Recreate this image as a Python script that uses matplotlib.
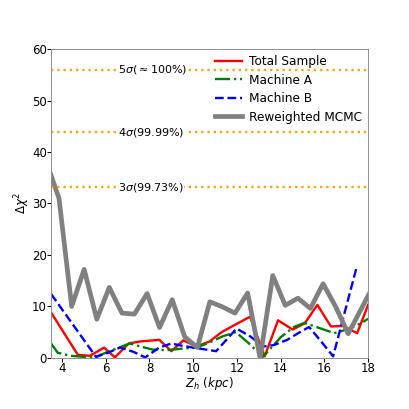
import matplotlib
matplotlib.use("Agg")
import matplotlib.pyplot as plt

# Reweighted MCMC (gray)
x_mcmc = [3.29, 3.86, 4.44, 5.01, 5.59, 6.16, 6.74, 7.31, 7.89, 8.46, 9.04, 9.61, 10.19,
          10.76, 11.34, 11.91, 12.49, 13.06, 13.64, 14.21, 14.79, 15.36, 15.94, 16.51,
          17.09, 17.66, 18.24]
y_mcmc = [38.0, 31.0, 10.0, 17.2, 7.5, 13.7, 8.7, 8.5, 12.5, 5.9, 11.3, 4.1, 2.0,
          10.9, 9.9, 8.7, 12.6, 0.0, 16.0, 10.2, 11.6, 9.6, 14.4, 10.0,
          4.7, 9.3, 14.0]

# Total sample (red)
x_total = [3.50, 4.72, 5.28, 5.92, 6.42, 7.05, 7.60, 8.15, 8.45, 9.00, 9.55, 10.15,
           10.75, 11.30, 11.90, 12.60, 13.27, 13.88, 14.55, 15.10, 15.68, 16.30,
           16.85, 17.50, 18.00]
y_total = [8.8, 0.6, 0.4, 2.0, 0.1, 2.8, 3.2, 3.4, 3.5, 1.3, 3.4, 2.2,
           3.2, 5.0, 6.4, 8.0, 0.3, 7.3, 5.5, 6.7, 10.3, 6.1,
           6.2, 4.8, 10.3]

# Machine A (green)
x_a = [3.50, 3.80, 4.40, 5.00, 5.50, 6.00, 6.60, 7.10, 7.60, 8.15, 8.80, 9.50, 10.15,
       10.75, 11.35, 11.95, 12.50, 13.19, 14.00, 14.60, 15.10, 15.70, 16.45, 17.10,
       17.70, 18.00]
y_a = [2.8, 1.0, 0.4, 0.2, 0.1, 1.0, 2.0, 2.8, 2.2, 1.6, 1.5, 1.8, 2.0,
       3.0, 4.2, 5.0, 3.0, 0.2, 4.0, 6.0, 6.8, 5.9, 4.8, 5.6,
       6.8, 7.6]

# Machine B (blue)
x_b = [3.50, 5.55, 6.10, 6.65, 7.25, 7.80, 8.45, 9.00, 9.55, 10.15, 11.05, 11.98,
       12.60, 13.20, 13.70, 14.30, 14.80, 15.30, 15.85, 16.40, 17.48]
y_b = [12.4, 0.2, 1.0, 2.0, 1.2, 0.1, 2.0, 2.8, 2.3, 1.9, 1.3, 5.7,
       4.2, 2.2, 2.5, 3.5, 4.8, 6.0, 3.2, 0.3, 17.7]

sig_levels = [33.2, 43.8, 56.0]
sig_labels = [r'3$\sigma$(99.73%)', r'4$\sigma$(99.99%)', r'5$\sigma$($\approx$100%)']

DPI = 85
fig = plt.figure(figsize=(409 / DPI, 409 / DPI), dpi=DPI)
ax = fig.add_axes([0.125, 0.125, 0.775, 0.755])

ax.plot(x_total, y_total, color='red', lw=2, ls='-', label='Total Sample')
ax.plot(x_a, y_a, color='green', lw=2, ls='-.', label='Machine A')
ax.plot(x_b, y_b, color='blue', lw=2, ls='--', label='Machine B')
ax.plot(x_mcmc, y_mcmc, color='gray', lw=4, ls='-', label='Reweighted MCMC')

for lev, lab in zip(sig_levels, sig_labels):
    ax.axhline(lev, color='orange', ls=':', lw=2)
    ax.text(6.55, lev, lab, fontsize=9.4, va='center', ha='left',
            bbox=dict(facecolor='white', edgecolor='none', pad=0.5))

ax.set_xlim(3.5, 18)
ax.set_ylim(0, 60)
ax.set_xticks([4, 6, 8, 10, 12, 14, 16, 18])
ax.set_yticks([0, 10, 20, 30, 40, 50, 60])
ax.tick_params(labelsize=10, length=3, pad=0.5)
for s in ax.spines.values():
    s.set_color('0.55')
ax.set_xlabel(r'$Z_h\ (kpc)$', fontsize=10, labelpad=0)
ax.set_ylabel(r'$\Delta\chi^2$', fontsize=10, labelpad=0)
ax.legend(loc='upper right', frameon=False, fontsize=10.3, handlelength=2.2,
          handletextpad=0.6, borderaxespad=0.1, labelspacing=0.45)

fig.savefig('out.png', dpi=DPI)
